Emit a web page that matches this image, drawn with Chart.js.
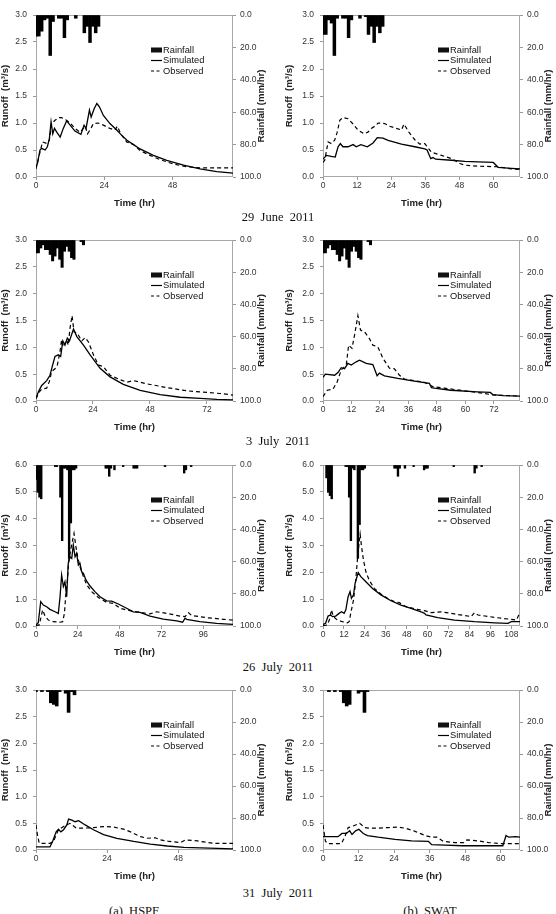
<!DOCTYPE html>
<html>
<head>
  <meta charset="UTF-8">
  <title>Runoff hydrographs</title>
  <script src="https://cdn.jsdelivr.net/npm/chart.js"></script>
  <style>
    body { margin: 0; background: #fff; }
    #page { position: relative; width: 556px; height: 914px; overflow: hidden; background: #fff; }
    .panel { position: absolute; width: 278px; }
    .cap {
      position: absolute; transform: translateX(-50%);
      font-family: "Liberation Serif", "DejaVu Serif", serif;
      font-size: 12.5px; line-height: 14px; white-space: pre; color: #111;
    }
  </style>
  <script>
    // ---- 29 June 2011 ----
    const rainJun29HspfT = [0, 1, 2, 3, 4, 5, 6, 8, 9, 10, 11, 14, 17, 18, 19, 20, 21, 22];
    const rainJun29HspfMm = [13, 13, 10, 3, 2, 25, 4, 2, 2, 14, 3, 2, 11, 7, 17, 7, 11, 7];
    const jun29HspfSimT = [0, 0.5, 1.4, 2, 3.2, 4, 4.7, 5.3, 5.9, 6.5, 7.3, 8.5, 9.6, 10.8, 12, 13.7, 15.8, 16.9, 17.6, 18.8, 19.4, 20.5, 21.4, 22.3, 23.7, 26, 28.4, 30, 32, 34.3, 36.6, 41.3, 46, 51.9, 57.7, 63.6, 69.3];
    const jun29HspfSimQ = [0.19, 0.25, 0.5, 0.53, 0.5, 0.56, 0.71, 1.02, 0.8, 0.9, 0.83, 0.74, 0.9, 1.04, 0.96, 0.85, 0.79, 0.96, 0.9, 1.24, 1.11, 1.27, 1.36, 1.3, 1.14, 0.99, 0.87, 0.78, 0.68, 0.6, 0.52, 0.4, 0.31, 0.22, 0.15, 0.1, 0.07];
    const jun29HspfObsT = [0, 1.4, 2.3, 3.8, 4.7, 5.5, 6.7, 7.9, 9, 10.2, 12, 13.7, 15.5, 17.3, 18.1, 19, 20.2, 21.9, 23.7, 26, 27.8, 28.6, 29.8, 31.9, 34.3, 36.6, 40.1, 43.7, 48.4, 53, 57.7, 63.6, 69.3];
    const jun29HspfObsQ = [0.15, 0.46, 0.65, 0.62, 0.68, 0.99, 1.05, 1.1, 1.1, 1.07, 1.0, 0.9, 0.83, 0.94, 0.8, 0.87, 0.99, 1.0, 0.96, 0.9, 0.87, 0.94, 0.8, 0.65, 0.6, 0.49, 0.4, 0.32, 0.24, 0.19, 0.17, 0.17, 0.17];

    const rainJun29SwatT = [0, 1, 2, 3, 4, 5, 7, 8, 9, 10, 13, 15, 16, 17, 18, 19, 20, 21];
    const rainJun29SwatMm = [12, 12, 3, 5, 25, 2, 2, 2, 14, 3, 2, 1, 12, 7, 17, 7, 11, 7];
    const jun29SwatSimT = [0, 1.2, 2.9, 4.3, 5.3, 6.1, 7, 8.8, 10.6, 11.7, 13.3, 15.6, 17.6, 19.1, 21.1, 22.9, 27.6, 32.3, 35.8, 36.6, 37.9, 38.7, 39.6, 45.2, 49.9, 54.6, 59.9, 61.6, 66.3, 69.3];
    const jun29SwatSimQ = [0.33, 0.4, 0.38, 0.37, 0.56, 0.62, 0.56, 0.56, 0.6, 0.56, 0.6, 0.56, 0.63, 0.73, 0.72, 0.68, 0.61, 0.56, 0.52, 0.5, 0.34, 0.36, 0.33, 0.31, 0.29, 0.28, 0.27, 0.18, 0.16, 0.15];
    const jun29SwatObsT = [0, 0.6, 1.8, 2.9, 4.1, 5, 5.9, 7, 8.8, 10.6, 12.3, 14.4, 15.8, 17, 18.2, 19.4, 21.7, 23.5, 25.8, 27.6, 28.5, 30.2, 32.3, 34, 35.8, 38.1, 41.7, 45.2, 48.1, 49.9, 54.6, 61.6, 66.3, 69.3];
    const jun29SwatObsQ = [0.27, 0.31, 0.65, 0.62, 0.68, 0.83, 1.05, 1.1, 1.08, 0.98, 0.87, 0.8, 0.83, 0.9, 0.94, 1.0, 0.99, 0.94, 0.9, 0.87, 0.98, 0.83, 0.69, 0.61, 0.62, 0.46, 0.4, 0.34, 0.25, 0.22, 0.2, 0.19, 0.15, 0.14];

    // ---- 3 July 2011 ----
    const rainJul3T = [0, 1, 2, 3, 4, 5, 6, 7, 8, 9, 10, 11, 12, 13, 14, 15, 16, 19, 20];
    const rainJul3Mm = [8, 8, 5, 3, 6, 6, 9, 13, 10, 5, 12, 17, 7, 4, 7, 11, 12, 1, 3];
    const jul3HspfSimT = [0, 1, 2.4, 4.5, 5.9, 7, 8, 9.4, 10.4, 11.3, 12.2, 13.2, 14.1, 15.8, 17.2, 20, 22.8, 27, 31.2, 36.8, 43.9, 52.3, 60.8, 69.2, 76.2, 83];
    const jul3HspfSimQ = [0.05, 0.17, 0.29, 0.38, 0.48, 0.67, 0.83, 0.86, 0.83, 1.12, 1.04, 1.17, 1.12, 1.34, 1.2, 1.04, 0.86, 0.61, 0.45, 0.31, 0.2, 0.12, 0.07, 0.05, 0.03, 0.02];
    const jul3HspfObsT = [0, 1.4, 2.4, 4.5, 5.6, 6.6, 8, 9, 10.1, 10.8, 11.5, 12.9, 13.6, 14.3, 15.2, 16, 17.4, 19.3, 20.7, 22.1, 24.2, 26.3, 28.4, 31.2, 34.7, 38.3, 41, 46.7, 55.1, 63.6, 72, 77.6, 83];
    const jul3HspfObsQ = [0.04, 0.17, 0.22, 0.24, 0.36, 0.55, 0.6, 0.67, 0.92, 1.14, 1.01, 1.14, 1.04, 1.35, 1.59, 1.29, 1.26, 1.12, 1.18, 1.1, 0.86, 0.67, 0.64, 0.48, 0.41, 0.35, 0.38, 0.32, 0.25, 0.19, 0.16, 0.14, 0.11];

    const jul3SwatSimT = [0, 1, 4.9, 6.3, 7.7, 9.1, 10.5, 11.9, 14, 15.4, 18.2, 21, 22.8, 23.8, 25.9, 31.5, 37.1, 44.8, 45.7, 46.9, 53.8, 65, 70.5, 71.5, 76, 83];
    const jul3SwatSimQ = [0.44, 0.5, 0.48, 0.53, 0.62, 0.6, 0.7, 0.67, 0.73, 0.76, 0.7, 0.68, 0.47, 0.52, 0.47, 0.42, 0.38, 0.33, 0.25, 0.24, 0.2, 0.17, 0.16, 0.12, 0.1, 0.09];
    const jul3SwatObsT = [0, 1.8, 4.2, 6, 7.7, 9.8, 10.8, 12.2, 13.3, 14.7, 15.8, 17.5, 19.6, 21, 23.1, 25.2, 28, 30.1, 32.2, 34.3, 37.1, 42.7, 46.2, 51.1, 59.5, 68, 72.1, 79, 83];
    const jul3SwatObsQ = [0.08, 0.2, 0.22, 0.36, 0.58, 0.67, 1.04, 0.98, 1.23, 1.59, 1.32, 1.29, 1.16, 1.04, 1.01, 0.8, 0.61, 0.6, 0.48, 0.41, 0.39, 0.35, 0.27, 0.24, 0.19, 0.14, 0.11, 0.1, 0.09];

    // ---- 26 July 2011 ----
    const rainJul26HspfT = [0, 1, 2, 3, 11, 12, 14, 15, 16, 17, 18, 19, 20, 21, 22, 23, 40, 41, 42, 43, 45, 50, 56, 57, 58, 74, 85, 86, 89];
    const rainJul26HspfMm = [9, 17, 20, 21, 1, 1, 20, 47, 2, 2, 3, 58, 36, 3, 3, 2, 2, 2, 7, 2, 3, 1, 2, 2, 2, 1, 5, 3, 1];
    const jul26HspfSimT = [0, 1.3, 2.7, 4.2, 6.1, 8, 10.9, 12.8, 13.8, 14.7, 15.7, 16.6, 17.6, 18.5, 19.5, 20.5, 21.4, 22.4, 23.3, 24.3, 25.2, 26.2, 27.2, 28.7, 31, 33.8, 36.7, 40.5, 43.4, 47.2, 52, 55.8, 59.7, 65.4, 73, 80.7, 84.1, 85.5, 86.4, 94, 103.6, 113];
    const jul26HspfSimQ = [0.04, 0.12, 0.91, 0.78, 0.72, 0.62, 0.53, 0.47, 1.09, 1.9, 1.47, 1.65, 1.09, 2.34, 2.58, 2.52, 3.02, 2.58, 2.71, 2.27, 2.34, 2.02, 1.96, 1.71, 1.49, 1.28, 1.09, 0.94, 0.93, 0.82, 0.66, 0.53, 0.51, 0.37, 0.26, 0.19, 0.14, 0.29, 0.25, 0.16, 0.1, 0.06];
    const jul26HspfObsT = [0, 1.9, 3.8, 5.2, 7.1, 9.9, 13.8, 15.3, 16.3, 17, 18, 18.9, 19.9, 21, 21.8, 22.9, 23.9, 25.2, 27.2, 29.1, 31.9, 35.8, 40.5, 44.4, 48.2, 53.9, 59.7, 65.4, 69.2, 75, 82.6, 85.5, 87.4, 89.3, 97.9, 107.5, 113];
    const jul26HspfObsQ = [0.01, 0.04, 0.6, 0.37, 0.22, 0.16, 0.14, 0.16, 0.47, 1.09, 1.71, 2.52, 2.83, 3.2, 3.45, 2.96, 2.58, 2.21, 1.84, 1.53, 1.28, 1.06, 0.88, 0.84, 0.66, 0.57, 0.51, 0.45, 0.53, 0.47, 0.37, 0.35, 0.5, 0.39, 0.31, 0.25, 0.22];

    const rainJul26SwatT = [2, 3, 4, 5, 13, 14, 15, 16, 17, 18, 20, 21, 22, 23, 24, 41, 42, 43, 44, 47, 52, 58, 59, 60, 75, 87, 88, 91];
    const rainJul26SwatMm = [8, 17, 19, 21, 1, 1, 20, 47, 2, 3, 58, 37, 3, 3, 2, 2, 2, 7, 2, 2, 1, 3, 2, 2, 1, 5, 2, 1];
    const jul26SwatSimT = [0, 1.5, 2.9, 4.4, 5.4, 7.3, 9.2, 10.6, 12.1, 13.1, 14.4, 15.5, 16.3, 17.5, 18.4, 20.2, 21.7, 24.6, 28.4, 33.2, 39, 44.7, 50.5, 56.2, 58.2, 59.1, 65.8, 75.4, 86.9, 98.5, 106.1, 108, 113];
    const jul26SwatSimQ = [0.06, 0.1, 0.37, 0.41, 0.35, 0.37, 0.47, 0.53, 0.47, 0.6, 1.09, 1.28, 1.03, 1.16, 1.59, 1.99, 1.84, 1.65, 1.4, 1.16, 0.94, 0.78, 0.66, 0.53, 0.47, 0.41, 0.31, 0.22, 0.16, 0.12, 0.1, 0.16, 0.16];
    const jul26SwatObsT = [0, 2.5, 4, 4.8, 6, 8.3, 11.1, 14, 15, 15.9, 17.5, 18.8, 19.8, 20.7, 21.3, 22.1, 23.2, 24.6, 26.5, 29.4, 33.2, 37, 40.9, 43.8, 47.6, 54.3, 58.2, 62, 67.8, 75.4, 85, 86.9, 88.9, 98.5, 106.1, 110.9, 112.3, 113];
    const jul26SwatObsQ = [0.01, 0.04, 0.29, 0.6, 0.35, 0.22, 0.16, 0.12, 0.16, 0.47, 0.97, 1.71, 2.52, 3.08, 3.42, 2.96, 2.46, 2.02, 1.71, 1.4, 1.19, 1.03, 0.91, 0.87, 0.72, 0.62, 0.57, 0.5, 0.53, 0.45, 0.35, 0.5, 0.41, 0.32, 0.26, 0.22, 0.41, 0.47];

    // ---- 31 July 2011 ----
    const rainJul31HspfT = [0, 2, 4, 5, 6, 7, 8, 10, 11, 12, 13];
    const rainJul31HspfMm = [1, 1, 1, 8, 9, 10, 1, 2, 14, 1, 3];
    const jul31HspfSimT = [0, 4.7, 5.6, 6.8, 7.6, 8.4, 9.3, 10.4, 11, 12.1, 13.2, 14.4, 16.6, 19.4, 22.8, 27.3, 33, 38.6, 44.3, 49.9, 55.6, 61.2, 66.5];
    const jul31HspfSimQ = [0.06, 0.06, 0.16, 0.34, 0.39, 0.34, 0.38, 0.47, 0.58, 0.56, 0.53, 0.55, 0.47, 0.38, 0.29, 0.22, 0.16, 0.11, 0.075, 0.05, 0.04, 0.03, 0.02];
    const jul31HspfObsT = [0, 0.5, 1.1, 4.7, 5.9, 6.8, 7.6, 8.4, 9.3, 10.4, 11.5, 12.4, 13.6, 16, 19.4, 22.8, 26.2, 29.6, 31.9, 35.3, 37.5, 40.3, 42, 44.9, 48.8, 50.5, 54.5, 57.9, 60.1, 66.5];
    const jul31HspfObsQ = [0.47, 0.28, 0.125, 0.125, 0.16, 0.28, 0.38, 0.41, 0.44, 0.47, 0.5, 0.46, 0.41, 0.41, 0.42, 0.44, 0.43, 0.39, 0.34, 0.25, 0.22, 0.23, 0.19, 0.16, 0.14, 0.19, 0.17, 0.14, 0.125, 0.125];

    const rainJul31SwatT = [2, 4, 6, 7, 8, 9, 12, 13, 14, 15];
    const rainJul31SwatMm = [1, 1, 1, 8, 10, 9, 2, 1, 14, 1];
    const jul31SwatSimT = [0, 5.1, 6.4, 7.9, 9, 9.8, 11, 12.1, 13.6, 15, 18.6, 24.3, 29.9, 35.6, 36.7, 41.2, 46.9, 52.5, 60.7, 61.8, 62.7, 65, 66.5];
    const jul31SwatSimQ = [0.25, 0.25, 0.31, 0.31, 0.36, 0.29, 0.36, 0.39, 0.31, 0.27, 0.24, 0.2, 0.17, 0.16, 0.1, 0.09, 0.08, 0.08, 0.08, 0.27, 0.24, 0.25, 0.24];
    const jul31SwatObsT = [0, 0.8, 1.5, 6.2, 7.3, 8.5, 10.2, 12.4, 14.1, 15.8, 18.6, 22, 24.9, 27.7, 31.1, 34.5, 36.7, 38.4, 40.7, 44.6, 47.5, 48.6, 52.5, 55.9, 59.9, 62.7, 66.5];
    const jul31SwatObsQ = [0.47, 0.17, 0.12, 0.12, 0.24, 0.42, 0.45, 0.5, 0.42, 0.41, 0.41, 0.42, 0.43, 0.41, 0.35, 0.27, 0.24, 0.24, 0.16, 0.14, 0.14, 0.19, 0.17, 0.14, 0.12, 0.12, 0.12];

    const eventLabels = ['29  June  2011', '3  July  2011', '26  July  2011', '31  July  2011'];
    const modelLabels = ['(a)  HSPF', '(b)  SWAT'];
    const seriesLabels = ['Rainfall', 'Simulated', 'Observed'];
    const axisTitles = ['Time (hr)', 'Runoff  (m\u00b3/s)', 'Rainfall (mm/hr)'];

    const panels = [
      { row: 0, col: 0, xMax: 69.3, xStep: 24, yMax: 3, yStep: 0.5, rainT: rainJun29HspfT, rainMm: rainJun29HspfMm, simT: jun29HspfSimT, simQ: jun29HspfSimQ, obsT: jun29HspfObsT, obsQ: jun29HspfObsQ },
      { row: 0, col: 1, xMax: 69.3, xStep: 12, yMax: 3, yStep: 0.5, rainT: rainJun29SwatT, rainMm: rainJun29SwatMm, simT: jun29SwatSimT, simQ: jun29SwatSimQ, obsT: jun29SwatObsT, obsQ: jun29SwatObsQ },
      { row: 1, col: 0, xMax: 83, xStep: 24, yMax: 3, yStep: 0.5, rainT: rainJul3T, rainMm: rainJul3Mm, simT: jul3HspfSimT, simQ: jul3HspfSimQ, obsT: jul3HspfObsT, obsQ: jul3HspfObsQ },
      { row: 1, col: 1, xMax: 83, xStep: 12, yMax: 3, yStep: 0.5, rainT: rainJul3T, rainMm: rainJul3Mm, simT: jul3SwatSimT, simQ: jul3SwatSimQ, obsT: jul3SwatObsT, obsQ: jul3SwatObsQ },
      { row: 2, col: 0, xMax: 113, xStep: 24, yMax: 6, yStep: 1, rainT: rainJul26HspfT, rainMm: rainJul26HspfMm, simT: jul26HspfSimT, simQ: jul26HspfSimQ, obsT: jul26HspfObsT, obsQ: jul26HspfObsQ },
      { row: 2, col: 1, xMax: 113, xStep: 12, yMax: 6, yStep: 1, rainT: rainJul26SwatT, rainMm: rainJul26SwatMm, simT: jul26SwatSimT, simQ: jul26SwatSimQ, obsT: jul26SwatObsT, obsQ: jul26SwatObsQ },
      { row: 3, col: 0, xMax: 66.5, xStep: 24, yMax: 3, yStep: 0.5, rainT: rainJul31HspfT, rainMm: rainJul31HspfMm, simT: jul31HspfSimT, simQ: jul31HspfSimQ, obsT: jul31HspfObsT, obsQ: jul31HspfObsQ },
      { row: 3, col: 1, xMax: 66.5, xStep: 12, yMax: 3, yStep: 0.5, rainT: rainJul31SwatT, rainMm: rainJul31SwatMm, simT: jul31SwatSimT, simQ: jul31SwatSimQ, obsT: jul31SwatObsT, obsQ: jul31SwatObsQ }
    ];

    // layout of the page (pixels)
    const rowTop = [15, 240, 465, 690];
    const rowBottom = [177, 401, 626, 850];
    const captionY = [217, 441, 667, 893];
    const modelX = [134, 430];
    const colPad = [{ left: 0, yw: 36, right: 9, y2w: 36 }, { left: 6, yw: 39, right: 1, y2w: 35 }];
    const xAxisH = 32;

    const FONT = '"Liberation Sans", Arial, sans-serif';

    const zip = (xs, ys) => xs.map((x, i) => ({ x: x, y: ys[i] }));

    // plot frame, inner legend and the right axis title
    const panelDeco = {
      id: 'panelDeco',
      beforeDatasetsDraw(chart) {
        const { ctx, chartArea: a } = chart;
        ctx.save();
        ctx.strokeStyle = '#a8a8a8';
        ctx.lineWidth = 1;
        ctx.strokeRect(Math.round(a.left) + 0.5, Math.round(a.top) + 0.5, Math.round(a.right - a.left) - 1, Math.round(a.bottom - a.top) - 1);
        ctx.restore();
      },
      afterDraw(chart) {
        const { ctx, chartArea: a } = chart;
        const x = a.left + 115, y = a.top + 35, gap = 10.5;
        ctx.save();
        ctx.font = '9.3px ' + FONT;
        ctx.textBaseline = 'middle';
        ctx.fillStyle = '#111';
        ctx.strokeStyle = '#000';
        ctx.fillRect(x, y - 2.5, 11, 5);
        ctx.fillText(seriesLabels[0], x + 12, y);
        ctx.lineWidth = 1.2;
        ctx.beginPath(); ctx.moveTo(x, y + gap); ctx.lineTo(x + 11, y + gap); ctx.stroke();
        ctx.fillText(seriesLabels[1], x + 12, y + gap);
        ctx.setLineDash([3, 2.5]);
        ctx.beginPath(); ctx.moveTo(x, y + 2 * gap); ctx.lineTo(x + 11, y + 2 * gap); ctx.stroke();
        ctx.setLineDash([]);
        ctx.fillText(seriesLabels[2], x + 12, y + 2 * gap);

        ctx.translate(a.right + 28.5, (a.top + a.bottom) / 2 + 10);
        ctx.rotate(-Math.PI / 2);
        ctx.font = 'bold 9.6px ' + FONT;
        ctx.fillStyle = '#222';
        ctx.textAlign = 'center';
        ctx.fillText(axisTitles[2], 0, 0);
        ctx.restore();
      }
    };

    document.addEventListener('DOMContentLoaded', function () {
      const page = document.getElementById('page');
      Chart.defaults.font.family = FONT;
      Chart.defaults.color = '#333';

      panels.forEach((p) => {
        const cp = colPad[p.col];
        const box = document.createElement('div');
        box.className = 'panel';
        box.style.left = (p.col * 278) + 'px';
        box.style.top = (rowTop[p.row] - 15) + 'px';
        box.style.height = (rowBottom[p.row] - rowTop[p.row] + 15 + xAxisH + 2) + 'px';
        const canvas = document.createElement('canvas');
        box.appendChild(canvas);
        page.appendChild(box);

        const tickFont = { size: 8.5 };
        const titleFont = { size: 9.6, weight: 'bold' };
        const grid = { display: true, drawOnChartArea: false, drawTicks: true, tickLength: 3, color: '#999' };

        new Chart(canvas, {
          type: 'bar',
          data: {
            datasets: [
              { type: 'line', label: seriesLabels[1], data: zip(p.simT, p.simQ), yAxisID: 'y', borderColor: '#000', borderWidth: 1.3, pointRadius: 0, tension: 0 },
              { type: 'line', label: seriesLabels[2], data: zip(p.obsT, p.obsQ), yAxisID: 'y', borderColor: '#000', borderWidth: 1.2, borderDash: [4, 3], pointRadius: 0, tension: 0 },
              { type: 'bar', label: seriesLabels[0], data: zip(p.rainT, p.rainMm), yAxisID: 'y2', backgroundColor: '#000', borderWidth: 0, barPercentage: 1, categoryPercentage: 1, clip: 0 }
            ]
          },
          options: {
            responsive: true,
            maintainAspectRatio: false,
            animation: false,
            layout: { padding: { top: 15, bottom: 2, left: cp.left, right: cp.right } },
            plugins: { legend: { display: false }, tooltip: { enabled: false } },
            scales: {
              x: {
                type: 'linear', min: 0, max: p.xMax, offset: false,
                grid: Object.assign({ offset: false }, grid),
                border: { display: false },
                ticks: { stepSize: p.xStep, includeBounds: false, autoSkip: false, maxRotation: 0, padding: 1, font: tickFont, callback: (v) => String(v) },
                title: { display: true, text: axisTitles[0], font: titleFont, color: '#222', padding: 0 },
                afterFit: (s) => { s.height = xAxisH; }
              },
              y: {
                position: 'left', min: 0, max: p.yMax,
                grid: grid,
                border: { display: false },
                ticks: { stepSize: p.yStep, padding: 6, font: tickFont, callback: (v) => v.toFixed(1) },
                title: { display: true, text: axisTitles[1], font: titleFont, color: '#222', padding: 0 },
                afterFit: (s) => { s.width = cp.yw; }
              },
              y2: {
                position: 'right', min: 0, max: 100, reverse: true,
                grid: grid,
                border: { display: false },
                ticks: { stepSize: 20, padding: 4, font: tickFont, callback: (v) => v.toFixed(1) },
                afterFit: (s) => { s.width = cp.y2w; }
              }
            }
          },
          plugins: [panelDeco]
        });
      });

      eventLabels.forEach((t, i) => {
        const d = document.createElement('div');
        d.className = 'cap';
        d.textContent = t;
        d.style.left = '278px';
        d.style.top = (captionY[i] - 7) + 'px';
        page.appendChild(d);
      });
      modelLabels.forEach((t, i) => {
        const d = document.createElement('div');
        d.className = 'cap';
        d.textContent = t;
        d.style.left = modelX[i] + 'px';
        d.style.top = '904px';
        page.appendChild(d);
      });
    });
  </script>
</head>
<body>
  <div id="page"></div>
</body>
</html>
